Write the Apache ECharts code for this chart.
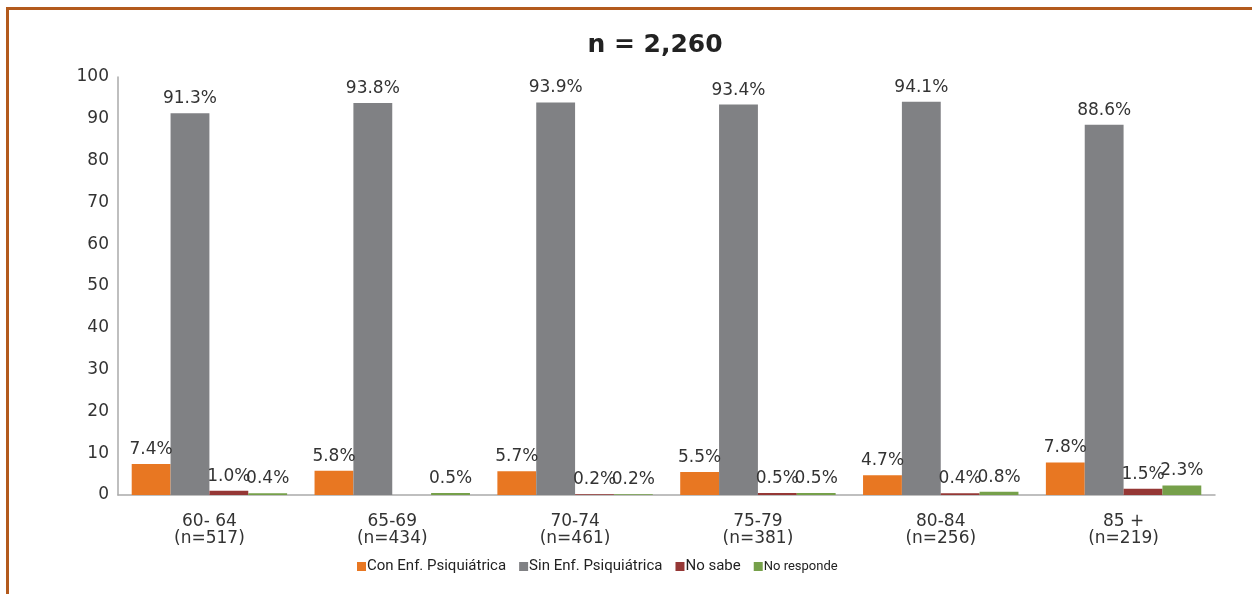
<!DOCTYPE html>
<html><head><meta charset="utf-8">
<script src="https://cdn.jsdelivr.net/npm/echarts@6/dist/echarts.min.js"></script>
<style>
html,body{margin:0;padding:0;background:#fff;}
#frame{position:absolute;left:6px;top:7px;width:1250px;height:590px;border-top:3px solid #b35a1c;border-left:3px solid #b35a1c;box-sizing:border-box;}
#chart{position:absolute;left:0;top:0;width:1252px;height:594px;}
</style></head>
<body>
<div id="frame"></div>
<div id="chart"></div>
<script>
const categories = ["60- 64\n(n=517)", "65-69\n(n=434)", "70-74\n(n=461)", "75-79\n(n=381)", "80-84\n(n=256)", "85 +\n(n=219)"];
const seriesNames = ["Con Enf. Psiquiátrica", "Sin Enf. Psiquiátrica", "No sabe", "No responde"];
const conEnf = [7.4, 5.8, 5.7, 5.5, 4.7, 7.8];
const sinEnf = [91.3, 93.8, 93.9, 93.4, 94.1, 88.6];
const noSabe = [1.0, null, 0.2, 0.5, 0.4, 1.5];
const noResponde = [0.4, 0.5, 0.2, 0.5, 0.8, 2.3];
const yTicks = [0, 10, 20, 30, 40, 50, 60, 70, 80, 90, 100];
const colors = ["#e87722", "#808184", "#953735", "#76a04a"];

const chart = echarts.init(document.getElementById('chart'));
const FONT = "DejaVu Sans";
function mk(name, data, color){
  return {
    name, type: 'bar', data, barGap: '0%', barCategoryGap: '15%',
    itemStyle: {color},
    label: {show: true, position: 'top', distance: 6, formatter: p => p.value == null ? '' : p.value.toFixed(1) + '%',
      fontFamily: FONT, fontSize: 17, color: '#333'}
  };
}
chart.setOption({
  animation: false,
  title: {text: 'n = 2,260', left: 650, textAlign: 'center', top: 28,
    textStyle: {fontFamily: FONT, fontSize: 25, fontWeight: 'bold', color: '#222'}},
  grid: {left: 118, right: 37, top: 77, bottom: 99, containLabel: false},
  legend: {
    top: 554, left: 352, itemWidth: 9, itemHeight: 9, itemGap: 13, icon: 'rect',
    textStyle: {fontFamily: "Roboto", fontSize: 15, color: '#222', padding: [0,0,0,-4]},
    data: [
      {name: seriesNames[0]}, {name: seriesNames[1]}, {name: seriesNames[2]},
      {name: seriesNames[3], textStyle: {fontSize: 13}}
    ]
  },
  xAxis: {
    type: 'category', data: categories,
    axisLine: {lineStyle: {color: '#aaa', width: 1.5}}, axisTick: {show: false},
    axisLabel: {fontFamily: FONT, fontSize: 17, color: '#333', lineHeight: 17, margin: 18}
  },
  yAxis: {
    type: 'value', min: yTicks[0], max: yTicks[yTicks.length-1], interval: 10,
    axisLine: {show: true, lineStyle: {color: '#aaa', width: 1.5}}, axisTick: {show: false},
    splitLine: {show: false},
    axisLabel: {fontFamily: FONT, fontSize: 17, color: '#333', margin: 9}
  },
  series: [
    mk(seriesNames[0], conEnf, colors[0]),
    mk(seriesNames[1], sinEnf, colors[1]),
    mk(seriesNames[2], noSabe, colors[2]),
    mk(seriesNames[3], noResponde, colors[3])
  ]
});
</script>
</body></html>
